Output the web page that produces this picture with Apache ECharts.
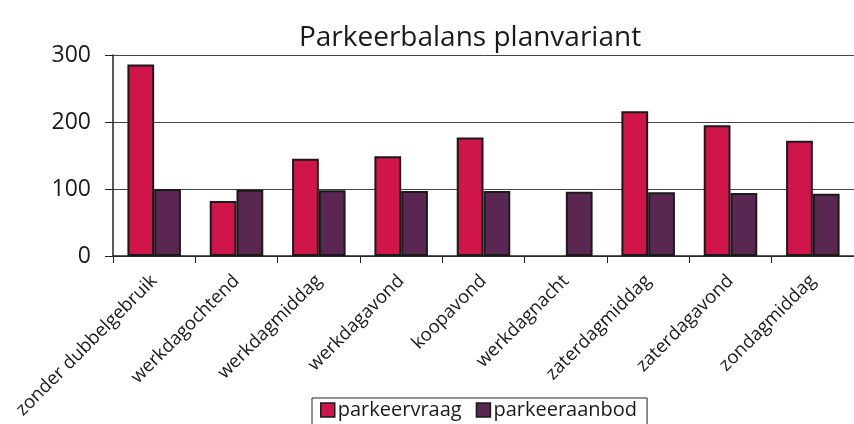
<!DOCTYPE html>
<html>
<head>
<meta charset="utf-8">
<script src="https://cdn.jsdelivr.net/npm/echarts@6/dist/echarts.min.js"></script>
<style>
  html, body { margin: 0; padding: 0; background: #fff; }
  #chart { width: 854px; height: 424px; }
</style>
</head>
<body>
<div id="chart"></div>
<script>
// data
const categories = ['zonder dubbelgebruik', 'werkdagochtend', 'werkdagmiddag', 'werkdagavond',
    'koopavond', 'werkdagnacht', 'zaterdagmiddag', 'zaterdagavond', 'zondagmiddag'];
const parkeervraag = [286, 82, 145, 149, 177, 0, 216, 195, 172];
const parkeeraanbod = [100, 99, 98, 97, 97, 96, 95, 94, 93];
const yTicks = [0, 100, 200, 300];

const chart = echarts.init(document.getElementById('chart'));
const font = 'Open Sans';

// een balk van 0 krijgt geen rand
const barData = arr => arr.map(v => v === 0 ? { value: v, itemStyle: { borderWidth: 0 } } : v);

const option = {
    backgroundColor: '#fff',
    animation: false,
    title: {
        text: 'Parkeerbalans planvariant',
        left: 465,
        top: 19,
        textAlign: 'center',
        textStyle: { fontFamily: font, fontSize: 28, fontWeight: 'normal', color: '#1a1a1a' }
    },
    legend: {
        data: ['parkeervraag', 'parkeeraanbod'],
        left: 312,
        top: 398,
        borderColor: '#222',
        borderWidth: 1,
        padding: [2, 10, 6, 8],
        itemGap: 14,
        itemWidth: 14,
        itemHeight: 14,
        icon: 'rect',
        itemStyle: { borderColor: '#1a1a1a', borderWidth: 1.5 },
        textStyle: { fontFamily: font, fontSize: 20, color: '#1a1a1a', padding: [0, 0, 0, -2] }
    },
    grid: {
        left: 113,
        top: 55,
        width: 751,
        height: 201
    },
    xAxis: {
        type: 'category',
        data: categories,
        axisLine: { lineStyle: { color: '#222', width: 1.5 } },
        axisTick: { show: true, length: 7, lineStyle: { color: '#222' } },
        axisLabel: {
            rotate: 45,
            interval: 0,
            margin: 22,
            fontFamily: font,
            fontSize: 18.5,
            color: '#1a1a1a'
        }
    },
    yAxis: {
        type: 'value',
        min: 0,
        max: 300,
        interval: 100,
        axisLine: { show: true, lineStyle: { color: '#222', width: 1.5 } },
        axisTick: { show: true, length: 8, lineStyle: { color: '#222' } },
        axisLabel: {
            fontFamily: font,
            fontSize: 23,
            color: '#1a1a1a',
            margin: 22,
            formatter: v => yTicks.includes(v) ? String(v) : ''
        },
        splitLine: { lineStyle: { color: '#444', width: 1 } }
    },
    series: [
        {
            name: 'parkeervraag',
            type: 'bar',
            data: barData(parkeervraag),
            barGap: '0%',
            barCategoryGap: '35%',
            itemStyle: { color: '#cf1549', borderColor: '#1a1a1a', borderWidth: 2 }
        },
        {
            name: 'parkeeraanbod',
            type: 'bar',
            data: barData(parkeeraanbod),
            itemStyle: { color: '#5a2652', borderColor: '#1a1a1a', borderWidth: 2 }
        }
    ]
};

chart.setOption(option);
</script>
</body>
</html>
